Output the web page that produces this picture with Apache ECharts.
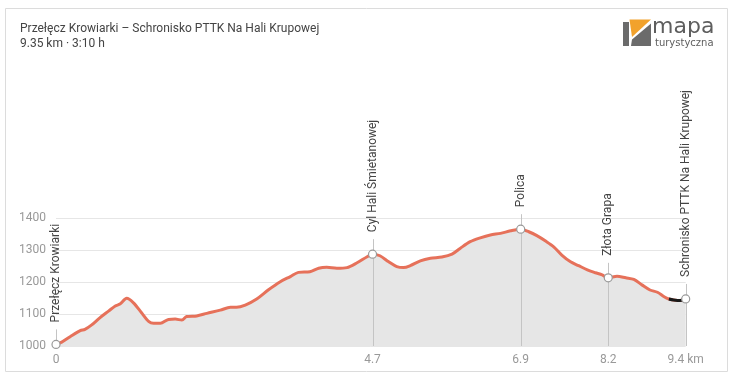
<!DOCTYPE html>
<html>
<head>
<meta charset="utf-8">
<script src="https://cdn.jsdelivr.net/npm/echarts@6/dist/echarts.min.js"></script>
<style>
html,body{margin:0;padding:0;background:#fff;}
#c{width:737px;height:389px;}
</style>
</head>
<body>
<div id="c"></div>
<script>
// ---- data ----
const titleText = 'Przełęcz Krowiarki – Schronisko PTTK Na Hali Krupowej';
const subtitleText = '9.35 km · 3:10 h';
const distKm = [0, 0.085, 0.21, 0.36, 0.43, 0.53, 0.65, 0.78, 0.88, 0.95, 1.05, 1.15, 1.27, 1.38, 1.45, 1.55, 1.67, 1.77, 1.87, 1.94, 2.09, 2.24, 2.44, 2.59, 2.68, 2.81, 2.98, 3.15, 3.33, 3.48, 3.60, 3.77, 3.90, 4.02, 4.17, 4.32, 4.47, 4.62, 4.70, 4.81, 4.94, 5.06, 5.16, 5.26, 5.41, 5.56, 5.73, 5.88, 6.00, 6.15, 6.30, 6.45, 6.60, 6.75, 6.90, 7.02, 7.14, 7.27, 7.39, 7.51, 7.64, 7.76, 7.89, 8.01, 8.11, 8.20, 8.33, 8.46, 8.58, 8.70, 8.82, 8.93, 9.03, 9.10, 9.17, 9.27, 9.35];
const elevM = [1005, 1012, 1029, 1048, 1052, 1066, 1088, 1109, 1125, 1131, 1149, 1135, 1104, 1076, 1071, 1071, 1083, 1084, 1081, 1092, 1094, 1102, 1112, 1121, 1121, 1128, 1147, 1175, 1201, 1217, 1230, 1232, 1243, 1246, 1243, 1245, 1260, 1279, 1287, 1282, 1263, 1248, 1245, 1251, 1266, 1274, 1278, 1287, 1305, 1326, 1338, 1347, 1352, 1360, 1365, 1357, 1345, 1328, 1310, 1284, 1263, 1251, 1238, 1229, 1222, 1213, 1218, 1213, 1208, 1191, 1175, 1168, 1154, 1147, 1144, 1142, 1147];
const blackFromKm = 9.10;
const wpNames = ['Przełęcz Krowiarki', 'Cyl Hali Śmietanowej', 'Polica', 'Złota Grapa', 'Schronisko PTTK Na Hali Krupowej'];
const wpKm = [0, 4.7, 6.9, 8.2, 9.35];
const wpElev = [1005, 1287, 1365, 1213, 1147];
const xTickLabels = ['0', '4.7', '6.9', '8.2', '9.4 km'];
const yMin = 1000, yMax = 1400, yStep = 100;

// ---- chart ----
const chart = echarts.init(document.getElementById('c'), null, {renderer: 'canvas'});
const lineData = distKm.map((d, i) => [d, elevM[i]]);
const blackData = lineData.filter(p => p[0] >= blackFromKm);
const wpData = wpKm.map((d, i) => [d, wpElev[i]]);
const FONT = 'Roboto, "Noto Sans", Arial, sans-serif';

chart.setOption({
  animation: false,
  backgroundColor: '#fff',
  textStyle: {fontFamily: FONT},
  graphic: [
    {type: 'rect', shape: {x: 5.5, y: 8.5, width: 722, height: 363}, style: {fill: 'none', stroke: '#dcdcdc', lineWidth: 1}, z: -1},
    {type: 'text', x: 20, y: 29, style: {text: titleText, fill: '#444', font: '12px ' + FONT, verticalAlign: 'middle'}},
    {type: 'text', x: 20, y: 44, style: {text: subtitleText, fill: '#444', font: '12px ' + FONT, verticalAlign: 'middle'}},
    {type: 'polygon', shape: {points: [[623, 22], [629, 22], [629, 46], [623, 46]]}, style: {fill: '#6b6b6b'}},
    {type: 'polygon', shape: {points: [[629.5, 19.5], [651, 19.5], [632, 37]]}, style: {fill: '#f2a22c'}},
    {type: 'polygon', shape: {points: [[632, 39.5], [651, 23.5], [651, 46], [631, 46]]}, style: {fill: '#6b6b6b'}},
    {type: 'text', x: 652, y: 27, style: {text: 'mapa', fill: '#5e5e5e', font: '22px "DejaVu Sans"', verticalAlign: 'middle'}},
    {type: 'text', x: 655, y: 43, style: {text: 'turystyczna', fill: '#5e5e5e', font: '10px "DejaVu Sans"', verticalAlign: 'middle'}}
  ],
  grid: {left: 56, right: 51.3, top: 218, bottom: 43, containLabel: false},
  xAxis: {
    type: 'value', min: 0, max: 9.35,
    axisLine: {show: false}, axisTick: {show: false}, splitLine: {show: false},
    axisLabel: {
      customValues: wpKm,
      color: '#999', fontSize: 12, margin: 8,
      formatter: (v) => { const k = wpKm.indexOf(v); return k >= 0 ? xTickLabels[k] : ''; }
    }
  },
  yAxis: {
    type: 'value', min: yMin, max: yMax, interval: yStep,
    axisLine: {show: false}, axisTick: {show: false},
    axisLabel: {color: '#999', fontSize: 12, margin: 10, formatter: (v) => String(v)},
    splitLine: {lineStyle: {color: '#e6e6e6', width: 1}}
  },
  series: [
    {
      type: 'line', data: lineData, showSymbol: false, smooth: 0.3,
      lineStyle: {color: '#e6715a', width: 3},
      areaStyle: {color: '#e6e6e6', opacity: 1, origin: 'start'},
      z: 2
    },
    {
      type: 'line', data: blackData, showSymbol: false, smooth: 0.3,
      lineStyle: {color: '#1a1a1a', width: 3},
      z: 3
    },
    {
      type: 'custom', data: wpData, clip: false, z: 5,
      renderItem: (params, api) => {
        const i = params.dataIndex;
        const p = api.coord([api.value(0), api.value(1)]);
        const b = api.coord([api.value(0), yMin]);
        const px = Math.round(p[0]) + 0.5;
        const top = p[1] - 15;
        return {
          type: 'group',
          children: [
            {type: 'line', shape: {x1: px, y1: b[1], x2: px, y2: top}, style: {stroke: '#c4c4c4', lineWidth: 1}},
            {type: 'circle', shape: {cx: p[0], cy: p[1], r: 4}, style: {fill: '#fff', stroke: '#9a9a9a', lineWidth: 1.2}},
            {type: 'text', x: p[0], y: top - 7, rotation: Math.PI / 2,
             style: {text: wpNames[i], fill: '#444', font: '12px ' + FONT, align: 'left', verticalAlign: 'middle'}}
          ]
        };
      }
    }
  ]
});
</script>
</body>
</html>
